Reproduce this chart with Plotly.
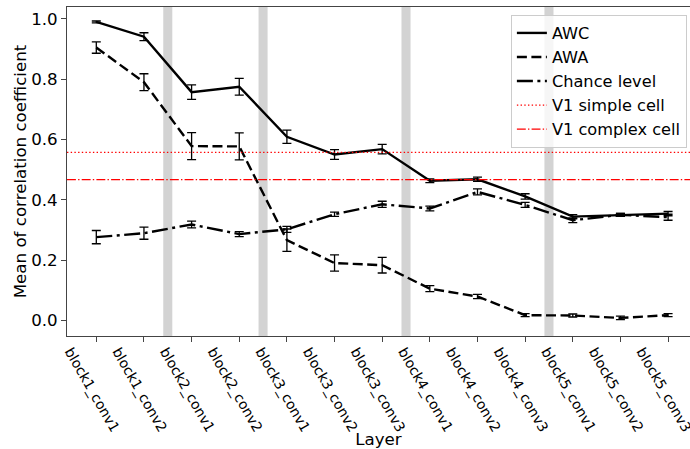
import plotly.graph_objects as go

# Layers of the network
layers = ["block1_conv1", "block1_conv2", "block2_conv1", "block2_conv2",
          "block3_conv1", "block3_conv2", "block3_conv3", "block4_conv1",
          "block4_conv2", "block4_conv3", "block5_conv1", "block5_conv2",
          "block5_conv3"]

# Mean correlation coefficient per layer, with error (half-width)
awc = [0.990, 0.941, 0.757, 0.775, 0.609, 0.550, 0.568, 0.463, 0.468, 0.411, 0.344, 0.350, 0.354]
awc_err = [0.003, 0.013, 0.024, 0.028, 0.022, 0.016, 0.016, 0.006, 0.007, 0.009, 0.007, 0.005, 0.007]

awa = [0.905, 0.790, 0.578, 0.577, 0.266, 0.190, 0.183, 0.105, 0.079, 0.017, 0.016, 0.008, 0.017]
awa_err = [0.019, 0.028, 0.045, 0.045, 0.037, 0.027, 0.026, 0.010, 0.007, 0.005, 0.005, 0.006, 0.005]

chance = [0.276, 0.289, 0.318, 0.286, 0.302, 0.352, 0.385, 0.371, 0.426, 0.383, 0.332, 0.350, 0.342]
chance_err = [0.022, 0.020, 0.011, 0.008, 0.010, 0.007, 0.010, 0.008, 0.010, 0.008, 0.008, 0.005, 0.010]

# Reference levels from V1 recordings
v1_simple = 0.557
v1_complex = 0.467

# Block boundaries (between consecutive layer indices)
block_bounds = [1.5, 3.5, 6.5, 9.5]
band_half = 0.095

FONT = "DejaVu Sans"
SMALL = 13.9
LARGE = 16.67

DASH = "10px,4.5px"
DASHDOT = "16px,4.5px,3px,4.5px"
RED_DOT = "1.4px,2.3px"
RED_DASHDOT = "8.9px,2.2px,1.4px,2.2px"

fig = go.Figure()

for b in block_bounds:
    fig.add_vrect(x0=b - band_half, x1=b + band_half, fillcolor="#d3d3d3",
                  line_width=0, layer="below", opacity=1)


def err(vals):
    return dict(type="data", array=vals, visible=True, color="black",
                thickness=1.3, width=4.5)


fig.add_trace(go.Scatter(x=layers, y=awc, mode="lines", name="AWC",
                         line=dict(color="black", width=2.4),
                         error_y=err(awc_err), legendgroup="a"))
fig.add_trace(go.Scatter(x=layers, y=awa, mode="lines", name="AWA",
                         line=dict(color="black", width=2.4, dash=DASH),
                         error_y=err(awa_err), legendgroup="b"))
fig.add_trace(go.Scatter(x=layers, y=chance, mode="lines", name="Chance level",
                         line=dict(color="black", width=2.4, dash=DASHDOT),
                         error_y=err(chance_err), legendgroup="c"))

# Legend entries for the horizontal reference lines
fig.add_trace(go.Scatter(x=[None], y=[None], mode="lines", name="V1 simple cell",
                         line=dict(color="red", width=1.3, dash=RED_DOT),
                         legendgroup="d"))
fig.add_trace(go.Scatter(x=[None], y=[None], mode="lines", name="V1 complex cell",
                         line=dict(color="red", width=1.3, dash=RED_DASHDOT),
                         legendgroup="e"))

fig.add_hline(y=v1_simple, line=dict(color="red", width=1.3, dash=RED_DOT))
fig.add_hline(y=v1_complex, line=dict(color="red", width=1.3, dash=RED_DASHDOT))

fig.update_layout(
    width=690, height=449,
    margin=dict(l=67, r=0, t=7, b=113),
    plot_bgcolor="white", paper_bgcolor="white",
    font=dict(family=FONT, size=SMALL, color="black"),
    showlegend=True,
    legend=dict(x=0.995, y=0.976, xanchor="right", yanchor="top",
                bgcolor="rgba(255,255,255,0.8)", bordercolor="#cccccc",
                borderwidth=1, font=dict(size=16.2), traceorder="grouped",
                tracegroupgap=0),
    xaxis=dict(
        type="category", range=[-0.615, 12.46], automargin=False,
        showline=True, linecolor="#444", linewidth=1, mirror=True,
        ticks="outside", ticklen=5, tickcolor="#444",
        tickangle=60, tickfont=dict(size=SMALL), ticklabelshift=-26,
        ticklabelstandoff=-4,
        showgrid=False, zeroline=False,
        title=dict(text="Layer", font=dict(size=LARGE), standoff=4),
    ),
    yaxis=dict(
        range=[-0.052, 1.0395], automargin=False,
        tickvals=[0.0, 0.2, 0.4, 0.6, 0.8, 1.0],
        ticktext=["0.0", "0.2", "0.4", "0.6", "0.8", "1.0"],
        showline=True, linecolor="#444", linewidth=1,
        ticks="outside", ticklen=5, tickcolor="#444",
        tickfont=dict(size=LARGE),
        showgrid=False, zeroline=False,
        title=dict(text="Mean of correlation coefficient", font=dict(size=LARGE), standoff=0),
    ),
)

fig.write_html("out.html")
